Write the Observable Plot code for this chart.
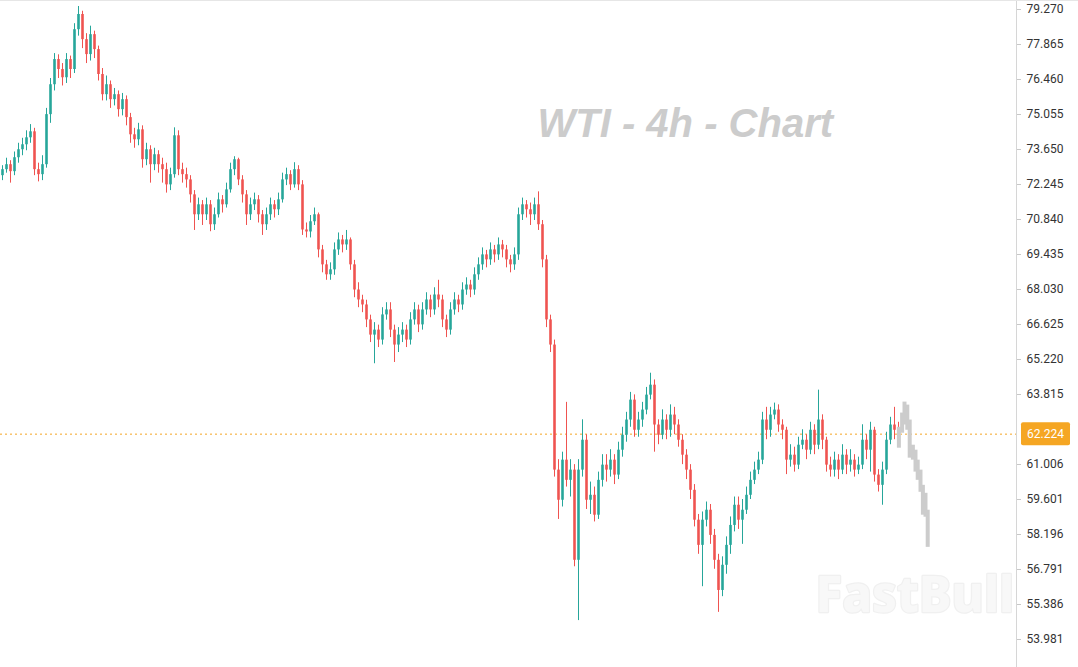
<!DOCTYPE html>
<html><head><meta charset="utf-8">
<script src="https://cdn.jsdelivr.net/npm/d3@7"></script>
<script src="https://cdn.jsdelivr.net/npm/@observablehq/plot@0.6"></script>
<style>body{margin:0;background:#fff;overflow:hidden}#chart{width:1078px;height:667px}</style>
</head><body><div id="chart"></div>
<script>
// ---- data (WTI 4h candles) ----
const firstOpen = 72.60;
const closes = [
72.84,73.04,72.76,73.32,73.64,73.84,74.12,74.36,72.84,72.64,
73.04,75.05,76.25,77.26,76.86,76.53,77.26,76.86,78.46,79.07,
78.06,77.46,78.26,77.66,76.66,75.85,76.25,75.65,75.85,75.25,
75.65,74.93,74.24,74.04,74.44,73.24,73.64,73.04,73.44,73.04,
72.84,72.23,72.64,74.20,72.84,72.64,72.43,71.83,71.03,71.43,
71.03,71.43,70.63,71.03,71.63,71.43,72.03,72.84,73.24,72.43,
71.83,71.03,71.43,71.63,71.03,70.63,71.03,71.43,71.23,71.63,
72.43,72.64,72.23,72.84,72.23,70.42,70.34,70.75,71.03,69.62,
69.02,68.62,68.82,69.62,70.02,69.82,70.02,69.02,68.01,67.61,
67.41,66.81,66.20,66.40,66.00,67.01,67.21,66.40,65.80,66.20,
66.40,66.00,66.81,67.21,66.61,67.21,67.61,67.21,67.81,67.61,
66.81,66.40,67.21,67.61,67.41,68.01,68.21,68.01,68.62,69.02,
69.42,69.22,69.62,69.42,69.82,69.62,69.22,69.02,69.42,71.03,
71.43,71.23,71.03,71.43,70.63,69.22,66.81,65.80,60.78,59.57,
61.18,60.37,60.78,57.16,60.78,61.98,59.57,59.77,58.97,60.37,
60.98,60.78,61.18,60.58,61.58,62.18,62.79,63.59,62.38,62.79,
63.19,63.79,64.19,62.59,62.18,62.79,62.38,62.99,62.59,61.98,
61.38,60.78,59.97,58.77,57.76,58.77,59.17,58.16,57.16,55.95,
56.96,57.76,58.56,59.37,58.77,59.17,59.77,60.37,60.78,61.18,
62.79,62.38,62.99,63.19,62.59,62.38,61.18,61.38,60.98,61.78,
61.98,61.58,62.38,61.78,62.79,61.98,60.98,60.78,61.18,60.78,
61.38,60.98,61.18,60.78,60.98,61.98,61.58,62.38,60.58,60.17,
60.78,61.98,62.59,62.38,62.22];
const highs = [
73.00,73.30,73.20,73.55,73.90,74.10,74.40,74.65,74.50,73.10,
73.40,75.30,76.50,77.50,77.45,77.10,77.50,77.40,78.70,79.39,
79.20,78.30,78.60,78.40,77.80,76.90,76.60,76.40,76.10,76.00,
75.90,75.80,75.10,74.50,74.70,74.60,73.90,73.80,73.70,73.60,
73.30,73.10,72.90,74.52,74.40,73.10,72.90,72.60,72.00,71.70,
71.60,71.70,71.60,71.30,71.90,71.80,72.30,73.10,73.36,73.30,
72.60,72.00,71.70,71.90,71.80,71.20,71.30,71.70,71.60,71.90,
72.70,72.90,72.80,73.12,73.00,72.40,70.70,71.00,71.30,71.10,
69.80,69.20,69.10,69.90,70.30,70.20,70.40,70.10,69.20,68.30,
67.80,67.60,67.00,66.70,66.60,67.30,67.50,67.50,66.60,66.50,
66.70,66.60,67.10,67.50,67.40,67.50,67.90,67.80,68.10,68.40,
67.80,67.00,67.50,67.90,67.80,68.30,68.50,68.40,68.90,69.30,
69.70,69.60,69.90,69.80,70.10,70.00,69.80,69.40,69.70,71.30,
71.70,71.60,71.50,71.70,71.95,70.80,69.40,67.00,66.00,61.20,
61.50,63.50,61.20,61.00,61.20,62.80,62.20,60.30,60.10,60.70,
61.40,61.40,61.60,61.40,61.90,62.50,63.10,63.90,63.80,63.10,
63.50,64.10,64.67,64.40,62.80,63.20,63.00,63.40,63.30,62.80,
62.20,61.60,61.00,60.20,59.00,59.10,59.50,59.40,58.40,57.40,
57.30,58.10,58.90,59.70,59.70,59.60,60.10,60.70,61.10,61.50,
63.10,63.30,63.30,63.47,63.40,62.80,62.50,61.80,61.70,62.10,
62.40,62.20,62.70,62.60,63.99,63.00,62.10,61.30,61.50,61.40,
61.80,61.60,61.60,61.40,61.30,62.60,62.20,62.70,62.50,60.80,
61.10,62.30,62.90,63.30,62.70];
const lows = [
72.40,72.70,72.30,72.60,73.10,73.40,73.60,73.90,72.60,72.35,
72.40,72.90,74.70,76.00,76.50,76.20,76.30,76.50,76.70,78.20,
77.70,77.10,77.20,77.30,76.40,75.60,75.60,75.30,75.40,74.95,
75.00,74.60,73.90,73.70,73.80,72.90,73.00,72.30,72.80,72.70,
72.30,71.90,72.00,72.50,72.60,72.30,72.10,71.50,70.40,70.80,
70.60,70.80,70.35,70.40,70.90,71.10,71.30,71.90,72.60,72.20,
71.50,70.60,70.80,71.20,70.70,70.20,70.40,70.80,70.90,71.00,
71.50,72.20,72.00,72.10,72.00,70.20,70.10,70.10,70.60,69.30,
68.70,68.40,68.40,68.60,69.40,69.50,69.60,68.80,67.70,67.30,
67.10,66.50,65.90,65.05,65.70,65.80,66.80,66.10,65.10,65.50,
65.90,65.70,65.80,66.60,66.30,66.40,67.00,66.90,67.00,67.30,
66.50,66.10,66.20,67.00,67.10,67.20,67.80,67.70,67.80,68.40,
68.80,68.90,69.00,69.10,69.20,69.30,68.90,68.70,68.80,69.20,
70.80,70.90,70.60,70.80,70.40,68.90,66.50,65.50,60.50,58.80,
59.30,60.10,59.70,56.90,54.74,60.50,59.20,59.00,58.70,58.80,
60.10,60.30,60.50,60.20,60.40,61.30,61.90,62.50,62.10,62.10,
62.50,63.00,63.60,61.50,61.80,62.00,62.00,62.10,62.20,61.70,
61.00,60.40,59.60,58.50,57.40,56.10,58.50,57.80,56.80,55.07,
55.70,56.60,57.40,58.30,58.40,57.80,59.00,59.60,60.20,60.60,
61.00,62.00,62.10,62.80,62.30,62.00,60.60,60.90,60.70,60.80,
61.60,61.20,61.40,61.40,61.60,61.60,60.70,60.50,60.50,60.40,
60.60,60.60,60.70,60.50,60.60,60.80,61.20,60.70,60.30,59.90,
59.37,60.60,61.80,62.00,61.90];
// grey forecast path after the last candle
const projIndex = [224.1,224.9,225.5,226.2,226.8,227.6,228.25,228.8,229.5,230.1,230.75,231.3];
const projHigh  = [62.50,63.07,63.51,63.39,62.79,61.78,61.58,61.18,60.78,60.17,59.85,59.17];
const projLow   = [61.66,62.26,62.59,62.38,61.26,61.18,60.70,60.37,59.89,58.97,58.89,57.68];
const yTickValues = [79.270,77.865,76.460,75.055,73.650,72.245,70.840,69.435,68.030,66.625,65.220,63.815,61.006,59.601,58.196,56.791,55.386,53.981];
const lastPrice = 62.224;
const titleText = "WTI - 4h - Chart";
const watermarkText = "FastBull";

// ---- layout ----
const W = 1078, H = 667, MR = 62;
const xDomain = [-0.5, 253.5];
const yDomain = [52.857, 79.631];
const UP = "#26a69a", DOWN = "#ef5350", ORANGE = "#f5a623";

const candles = closes.map((c, i) => {
  const open = i === 0 ? firstOpen : closes[i - 1];
  return {i, open, close: c, high: highs[i], low: lows[i], color: c >= open ? UP : DOWN};
});
const proj = projIndex.map((x, k) => ({x, hi: projHigh[k], lo: projLow[k]}));

const chart = Plot.plot({
  width: W, height: H,
  marginTop: 0, marginBottom: 0, marginLeft: 0, marginRight: MR,
  x: {type: "linear", domain: xDomain, axis: null},
  y: {type: "linear", domain: yDomain, axis: null},
  style: {fontFamily: "Roboto, 'Liberation Sans', sans-serif", fontSize: "12px", background: "#fff", overflow: "visible"},
  marks: [
    Plot.text([watermarkText], {frameAnchor: "top-left", dx: 815, dy: 596, textAnchor: "start", lineAnchor: "middle",
      fontFamily: "'Noto Sans', 'DejaVu Sans', sans-serif", fontWeight: 800, fontSize: 49,
      fill: "#f8f8f8", stroke: "#f0f0f0", strokeWidth: 2.5, paintOrder: "stroke"}),
    Plot.text([titleText], {frameAnchor: "top-left", dx: 537, dy: 124, textAnchor: "start", lineAnchor: "middle",
      fontFamily: "'Liberation Sans', Arial, sans-serif", fontWeight: "bold", fontStyle: "italic", fontSize: 40,
      fill: "#cccccc"}),
    Plot.ruleX([xDomain[1]], {stroke: "#d6d6d6"}),
    Plot.ruleY([lastPrice], {stroke: ORANGE, strokeDasharray: "2,3", strokeWidth: 1}),
    Plot.ruleX(candles, {x: "i", y1: "low", y2: "high", stroke: "color", strokeWidth: 1}),
    Plot.ruleX(candles, {x: "i", y1: "open", y2: "close", stroke: "color", strokeWidth: 2.6}),
    Plot.ruleX(proj, {x: "x", y1: "lo", y2: "hi", stroke: "#cccccc", strokeWidth: 4}),
    Plot.axisY({ticks: yTickValues, anchor: "right", tickSize: 4, tickPadding: 6,
      tickFormat: d => d.toFixed(3), stroke: "#c8c8c8", fill: "#333", fontSize: 12})
  ]
});

// price label box on the right axis
const svg = d3.select(chart);
const yPx = chart.scale("y").apply(lastPrice);
const xEdge = W - MR;
const g = svg.append("g");
g.append("rect").attr("x", xEdge + 5).attr("y", yPx - 11.5).attr("width", 49).attr("height", 23)
  .attr("rx", 2).attr("fill", ORANGE);
g.append("text").attr("x", xEdge + 29.5).attr("y", yPx).attr("dy", "0.35em").attr("text-anchor", "middle")
  .attr("fill", "#fff").attr("font-size", 12).attr("font-family", "Roboto, sans-serif").text(lastPrice.toFixed(3));
// thin top border
svg.append("line").attr("x1", 0).attr("x2", W).attr("y1", 0.5).attr("y2", 0.5).attr("stroke", "#e6e6e6");

document.getElementById("chart").appendChild(chart);
</script>
</body></html>
